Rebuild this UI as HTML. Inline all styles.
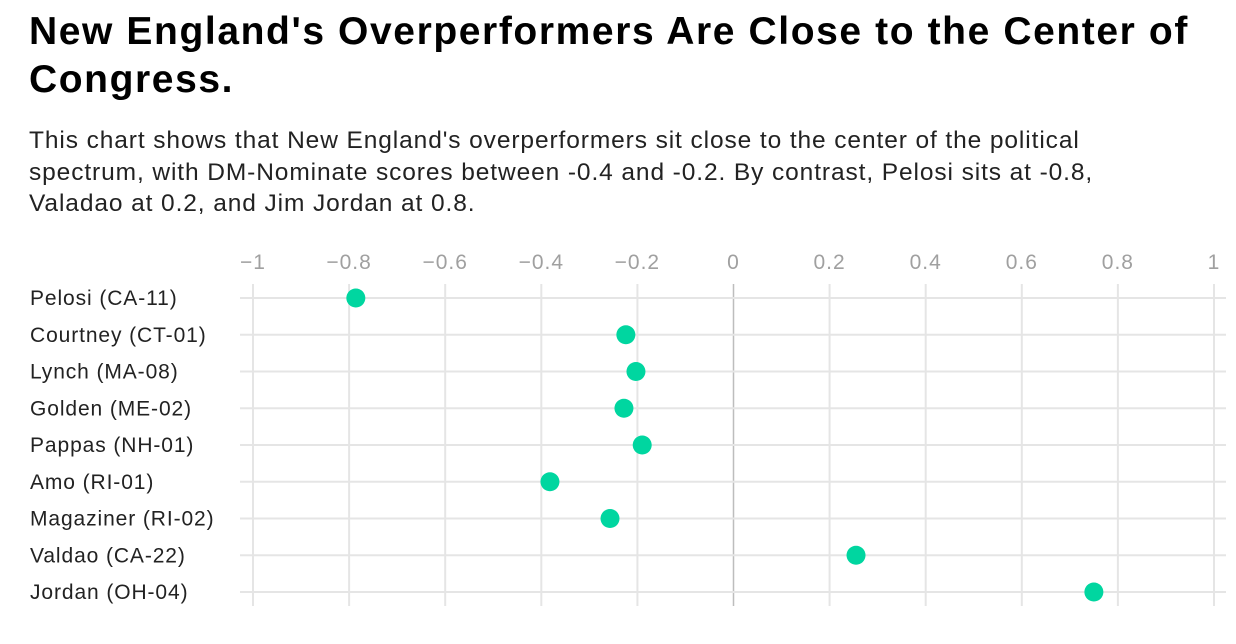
<!DOCTYPE html>
<html><head><meta charset="utf-8"><style>
body{margin:0;background:#fff;font-family:"Liberation Sans",Roboto,sans-serif;}
#wrap{position:relative;width:1236px;height:644px;overflow:hidden;}
h1{position:absolute;left:29px;top:8px;margin:0;font-size:39px;line-height:48px;font-weight:bold;color:#000;width:1190px;letter-spacing:1.6px}
p{position:absolute;left:29px;top:125px;margin:0;font-size:24.5px;line-height:31.5px;color:#222;width:1150px;letter-spacing:0.9px}
svg{position:absolute;left:0;top:0}
</style></head><body>
<div id="wrap">
<h1>New England's Overperformers Are Close to the Center of Congress.</h1>
<p>This chart shows that New England's overperformers sit close to the center of the political spectrum, with DM&#8209;Nominate scores between -0.4 and -0.2. By contrast, Pelosi sits at -0.8, Valadao at 0.2, and Jim Jordan at 0.8.</p>
<svg id="chart" width="1236" height="644"></svg>
</div>
<script>
const categories=["Pelosi (CA-11)","Courtney (CT-01)","Lynch (MA-08)","Golden (ME-02)","Pappas (NH-01)","Amo (RI-01)","Magaziner (RI-02)","Valdao (CA-22)","Jordan (OH-04)"];
const scores=[-0.786,-0.224,-0.203,-0.228,-0.190,-0.382,-0.257,0.255,0.750];
const ticks=[-1,-0.8,-0.6,-0.4,-0.2,0,0.2,0.4,0.6,0.8,1];
const ns="http://www.w3.org/2000/svg";
const svg=document.getElementById('chart');
const x=v=>733.5+v*480.5;
const y=i=>298+i*36.75;
function mk(t,a){const e=document.createElementNS(ns,t);for(const k in a)e.setAttribute(k,a[k]);svg.appendChild(e);return e;}
ticks.forEach(t=>{
  const l=mk('line',{x1:x(t),x2:x(t),y1:284,y2:606,stroke:t===0?'#bdbdbd':'#e5e5e5','stroke-width':t===0?1.5:2});
  
  
  const tx=mk('text',{x:x(t),y:269,'text-anchor':'middle','font-size':21,'letter-spacing':1,fill:'#a0a0a0','font-family':'Liberation Sans, sans-serif'});
  tx.textContent=t===0?'0':(t<0?'\u2212'+String(-t):String(t));
  
  
});
categories.forEach((c,i)=>{
  const l=mk('line',{x1:240,x2:1226,y1:y(i),y2:y(i),stroke:'#e5e5e5','stroke-width':2});
  
  
  const tx=mk('text',{x:30,y:y(i)+7,'font-size':21,'letter-spacing':0.9,fill:'#222','font-family':'Liberation Sans, sans-serif'});
  tx.textContent=c;
  
  
});
scores.forEach((v,i)=>{
  const d=mk('circle',{cx:x(v),cy:y(i),r:9.5,fill:'#00d6a0'});
  
  
});
</script>
</body></html>
